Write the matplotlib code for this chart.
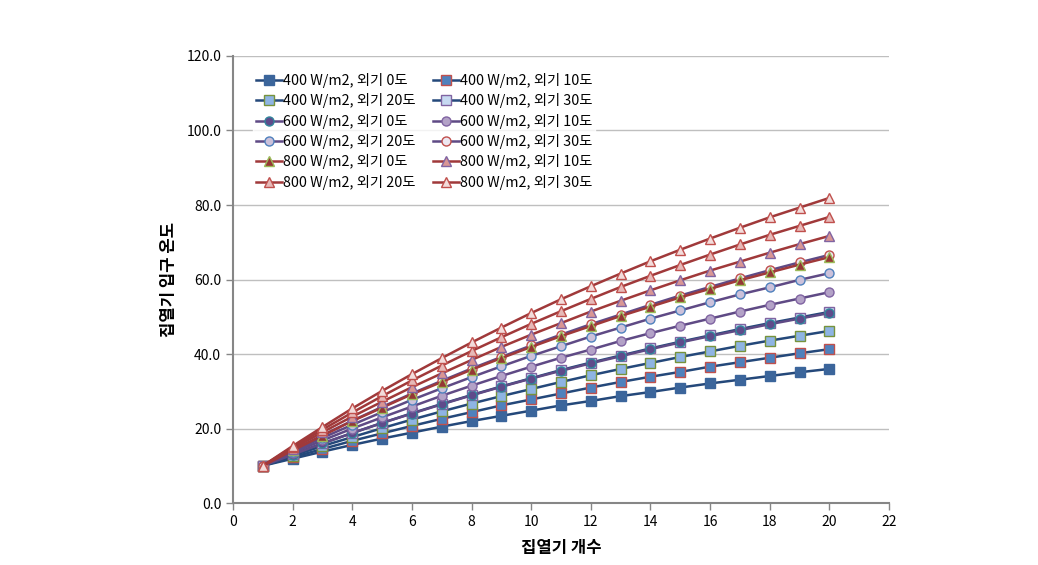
import matplotlib
matplotlib.use("Agg")
import matplotlib.pyplot as plt
from matplotlib.ticker import FormatStrFormatter

plt.rcParams['font.family'] = ['Noto Sans CJK KR', 'DejaVu Sans']

x = list(range(1, 21))

labels = [
    "400 W/m2, 외기 0도", "400 W/m2, 외기 10도", "400 W/m2, 외기 20도", "400 W/m2, 외기 30도",
    "600 W/m2, 외기 0도", "600 W/m2, 외기 10도", "600 W/m2, 외기 20도", "600 W/m2, 외기 30도",
    "800 W/m2, 외기 0도", "800 W/m2, 외기 10도", "800 W/m2, 외기 20도", "800 W/m2, 외기 30도",
]

s400_0 = [10.0, 11.9, 13.8, 15.6, 17.3, 18.9, 20.5, 22.0, 23.4, 24.8, 26.2, 27.4, 28.7, 29.8, 31.0, 32.1, 33.1, 34.1, 35.1, 36.0]
s400_10 = [10.0, 12.3, 14.5, 16.7, 18.7, 20.7, 22.6, 24.4, 26.2, 27.8, 29.4, 31.0, 32.5, 33.9, 35.2, 36.6, 37.8, 39.0, 40.2, 41.3]
s400_20 = [10.0, 12.7, 15.3, 17.7, 20.1, 22.4, 24.6, 26.7, 28.7, 30.6, 32.5, 34.3, 36.0, 37.6, 39.2, 40.7, 42.2, 43.6, 44.9, 46.2]
s400_30 = [10.0, 13.1, 16.0, 18.8, 21.5, 24.1, 26.6, 29.0, 31.3, 33.5, 35.7, 37.7, 39.6, 41.5, 43.3, 45.0, 46.7, 48.3, 49.8, 51.3]
s600_0 = [10.0, 13.0, 16.0, 18.8, 21.5, 24.0, 26.5, 28.9, 31.2, 33.4, 35.5, 37.5, 39.4, 41.3, 43.1, 44.8, 46.4, 48.0, 49.5, 51.0]
s600_10 = [10.0, 13.5, 16.8, 20.0, 23.0, 25.9, 28.8, 31.5, 34.1, 36.6, 39.0, 41.2, 43.5, 45.6, 47.6, 49.5, 51.4, 53.2, 54.9, 56.6]
s600_20 = [10.0, 13.8, 17.5, 21.0, 24.4, 27.7, 30.8, 33.8, 36.7, 39.5, 42.1, 44.7, 47.1, 49.5, 51.7, 53.9, 56.0, 57.9, 59.9, 61.7]
s600_30 = [10.0, 14.2, 18.2, 22.1, 25.8, 29.4, 32.8, 36.1, 39.2, 42.3, 45.2, 48.0, 50.6, 53.2, 55.7, 58.0, 60.3, 62.5, 64.6, 66.6]
s800_0 = [10.0, 14.1, 18.1, 22.0, 25.6, 29.2, 32.5, 35.8, 38.9, 41.9, 44.8, 47.5, 50.2, 52.7, 55.2, 57.5, 59.8, 61.9, 64.0, 66.0]
s800_10 = [10.0, 14.6, 19.0, 23.2, 27.2, 31.1, 34.8, 38.4, 41.9, 45.2, 48.3, 51.4, 54.3, 57.1, 59.8, 62.4, 64.8, 67.2, 69.5, 71.7]
s800_20 = [10.0, 15.0, 19.7, 24.3, 28.7, 32.9, 36.9, 40.8, 44.5, 48.1, 51.5, 54.8, 58.0, 61.0, 63.9, 66.7, 69.4, 72.0, 74.4, 76.8]
s800_30 = [10.0, 15.3, 20.4, 25.4, 30.1, 34.6, 38.9, 43.1, 47.1, 51.0, 54.7, 58.2, 61.6, 64.9, 68.0, 71.0, 73.9, 76.7, 79.3, 81.9]

series = [s400_0, s400_10, s400_20, s400_30,
          s600_0, s600_10, s600_20, s600_30,
          s800_0, s800_10, s800_20, s800_30]

blue_line = '#24487A'
purple_line = '#5F4A85'
red_line = '#A0393A'

styles = [
    dict(color=blue_line, marker='s', mfc='#3B659B', mec='#3B659B'),
    dict(color=blue_line, marker='s', mfc='#4F81BD', mec='#C0504D'),
    dict(color=blue_line, marker='s', mfc='#8EB4E3', mec='#77933C'),
    dict(color=blue_line, marker='s', mfc='#C6D9F1', mec='#8064A2'),
    dict(color=purple_line, marker='o', mfc='#5F4B8B', mec='#31859C'),
    dict(color=purple_line, marker='o', mfc='#B3A2C7', mec='#8064A2'),
    dict(color=purple_line, marker='o', mfc='#CCC1DA', mec='#4F81BD'),
    dict(color=purple_line, marker='o', mfc='#EDE7F1', mec='#C0504D'),
    dict(color=red_line, marker='^', mfc='#953735', mec='#9BBB59'),
    dict(color=red_line, marker='^', mfc='#D99694', mec='#8064A2'),
    dict(color=red_line, marker='^', mfc='#E6B9B8', mec='#C0504D'),
    dict(color=red_line, marker='^', mfc='#F2DCDB', mec='#C0504D'),
]

fig = plt.figure(figsize=(10.38, 5.65), dpi=100)
ax = fig.add_axes([0.2245, 0.1097, 0.632, 0.7912])

for ys, lab, st in zip(series, labels, styles):
    ax.plot(x, ys, label=lab, linewidth=1.8, markersize=6.5, markeredgewidth=1.0, **st)

ax.set_xlim(0, 22)
ax.set_ylim(0, 120)
ax.set_xticks(range(0, 23, 2))
ax.set_yticks(range(0, 121, 20))
ax.yaxis.set_major_formatter(FormatStrFormatter('%.1f'))
ax.grid(axis='y', color='#BFBFBF', linewidth=1.0)
ax.set_axisbelow(True)
for sp in ['top', 'right']:
    ax.spines[sp].set_visible(False)
for sp in ['left', 'bottom']:
    ax.spines[sp].set_color('#868686')
    ax.spines[sp].set_linewidth(1.5)
ax.tick_params(axis='both', colors='#868686', labelcolor='black', labelsize=10, length=5, width=1)

ax.set_xlabel('집열기 개수', fontsize=12, fontweight='bold', labelpad=7)
ax.set_ylabel('집열기 입구 온도', fontsize=12, fontweight='bold', labelpad=6)

handles, labs = ax.get_legend_handles_labels()
order = [0, 2, 4, 6, 8, 10, 1, 3, 5, 7, 9, 11]
leg = ax.legend([handles[i] for i in order], [labs[i] for i in order], ncol=2, loc='upper left',
                bbox_to_anchor=(0.02, 0.985), frameon=True, fontsize=10.3, handlelength=1.8,
                handletextpad=0.1, columnspacing=1.2, labelspacing=0.38, borderpad=0.2)
leg.get_frame().set_facecolor('white')
leg.get_frame().set_edgecolor('white')

fig.savefig('out.png', dpi=100)
